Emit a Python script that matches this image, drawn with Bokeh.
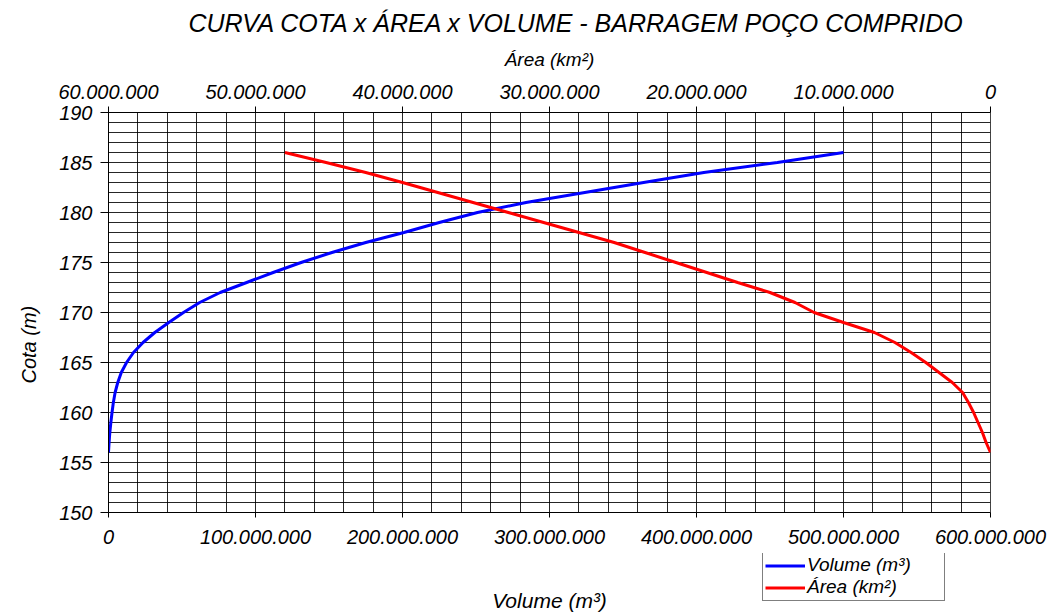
from bokeh.plotting import figure
from bokeh.layouts import column
from bokeh.models import Range1d, LinearAxis, FixedTicker, Label, Legend, LegendItem, Title
from bokeh.embed import file_html
from bokeh.resources import INLINE

# ---- data ----
cota = [156, 157, 158, 159, 160, 161, 162, 163, 164, 165, 166, 167, 168, 169, 170,
        171, 172, 173, 174, 175, 176, 177, 178, 179, 180, 181, 182, 183, 184, 185, 186]
volume = [0.0, 0.4e6, 0.9e6, 1.6e6, 2.4e6, 3.3e6, 4.5e6, 6.3e6, 8.7e6, 12.3e6, 17.0e6,
          23.5e6, 31.5e6, 41e6, 51e6, 62e6, 76e6, 94e6, 112e6, 131e6, 152e6, 175e6,
          201e6, 225e6, 251e6, 284e6, 324e6, 364e6, 405e6, 455e6, 500e6]
area = [0.0, 0.3e6, 0.55e6, 0.85e6, 1.15e6, 1.5e6, 1.9e6, 2.6e6, 3.5e6, 4.4e6, 5.4e6,
        6.5e6, 7.9e6, 10.0e6, 12.0e6, 13.3e6, 15.0e6, 17.2e6, 19.3e6, 21.4e6, 23.5e6,
        25.6e6, 28.0e6, 30.4e6, 32.8e6, 35.2e6, 37.6e6, 40.0e6, 42.5e6, 45.2e6, 48.0e6]

vol_ticks = [0, 100000000, 200000000, 300000000, 400000000, 500000000, 600000000]
vol_tick_labels = ["0", "100.000.000", "200.000.000", "300.000.000", "400.000.000",
                   "500.000.000", "600.000.000"]
area_ticks = [60000000, 50000000, 40000000, 30000000, 20000000, 10000000, 0]
area_tick_labels = ["60.000.000", "50.000.000", "40.000.000", "30.000.000",
                    "20.000.000", "10.000.000", "0"]
cota_ticks = [150, 155, 160, 165, 170, 175, 180, 185, 190]

title_text = "CURVA COTA x ÁREA x VOLUME - BARRAGEM POÇO COMPRIDO"
FONT = "Liberation Sans"
W = 1049

p = figure(width=W, height=553, output_backend="svg", toolbar_location=None,
           x_range=Range1d(0, 600000000), y_range=Range1d(150, 190),
           min_border_left=108, min_border_right=59, min_border_top=112,
           min_border_bottom=41)
p.background_fill_color = "white"
p.border_fill_color = "white"
p.outline_line_color = "#444444"

p.extra_x_ranges = {"area": Range1d(start=60000000, end=0)}

# title
p.title.text = title_text
p.title.align = "left"
p.title.vertical_align = "top"
p.title.offset = 80
p.title.standoff = 13
p.title.text_font = FONT
p.title.text_font_style = "italic"
p.title.text_font_size = "25px"
p.title.text_color = "black"

# grids
p.xgrid.ticker = FixedTicker(ticks=[i * 20000000 for i in range(31)])
p.ygrid.ticker = FixedTicker(ticks=list(range(150, 191)))
for g in (p.xgrid, p.ygrid):
    g.grid_line_color = "black"
    g.grid_line_alpha = 0.85
    g.grid_line_width = 1

def style_axis(ax):
    ax.axis_line_color = "black"
    ax.major_tick_line_color = "black"
    ax.minor_tick_line_color = None
    ax.major_tick_in = 0
    ax.major_label_text_font = FONT
    ax.major_label_text_font_style = "italic"
    ax.major_label_text_font_size = "20px"
    ax.major_label_text_color = "black"
    ax.axis_label_text_font = FONT
    ax.axis_label_text_font_style = "italic"
    ax.axis_label_text_font_size = "19px"
    ax.axis_label_text_color = "black"

# bottom axis (volume)
xa = p.xaxis[0]
xa.ticker = FixedTicker(ticks=vol_ticks)
xa.major_label_overrides = dict(zip(vol_ticks, vol_tick_labels))
style_axis(xa)
xa.major_tick_out = 5
xa.major_label_standoff = 12

# left axis (cota)
ya = p.yaxis[0]
ya.ticker = FixedTicker(ticks=cota_ticks)
style_axis(ya)
ya.major_tick_out = 8
ya.major_label_standoff = 8

# top axis (area)
ta = LinearAxis(x_range_name="area", ticker=FixedTicker(ticks=area_ticks),
                major_label_overrides=dict(zip(area_ticks, area_tick_labels)),
                axis_label="Área (km²)")
style_axis(ta)
ta.major_tick_out = 6
ta.major_label_standoff = 8
ta.axis_label_standoff = 12
p.add_layout(ta, "above")

# left title as axis caption
p.add_layout(Title(text="Cota (m)", align="left", vertical_align="top", offset=129,
                   standoff=30, text_font=FONT, text_font_style="italic",
                   text_font_size="20px", text_color="black"), "left")

# curves
p.line(volume, cota, line_color="#0000FF", line_width=3)
p.line(area, cota, line_color="#FF0000", line_width=3, x_range_name="area")

# ---- strip below: bottom axis title + legend ----
H2 = 612 - 553
FW = 882
q = figure(width=W, height=H2, output_backend="svg", toolbar_location=None,
           x_range=Range1d(0, FW), y_range=Range1d(0, H2),
           x_axis_location=None, y_axis_location=None, min_border=0)
q.outline_line_color = None
q.background_fill_color = "white"
q.border_fill_color = "white"
q.xgrid.visible = False
q.ygrid.visible = False

lv = q.line(x=[-20, -10], y=[-20, -20], line_color="#0000FF", line_width=3)
la = q.line(x=[-20, -10], y=[-20, -20], line_color="#FF0000", line_width=3)

legend = Legend(items=[LegendItem(label="Volume (m³)", renderers=[lv]),
                       LegendItem(label="Área (km²)", renderers=[la])],
                location=(654, 11), orientation="vertical")
legend.label_text_font = FONT
legend.label_text_font_style = "italic"
legend.label_text_font_size = "19px"
legend.label_text_color = "black"
legend.label_text_line_height = 1.0
legend.glyph_width = 40
legend.glyph_height = 17
legend.label_height = 17
legend.label_width = 135
legend.label_standoff = 2
legend.spacing = 0
legend.padding = 2
legend.margin = 0
legend.border_line_color = "black"
legend.border_line_width = 1
legend.background_fill_color = "white"
legend.background_fill_alpha = 1.0
q.add_layout(legend, "center")

q.add_layout(Label(x=441, y=12, text="Volume (m³)", text_align="center",
                   text_baseline="middle", text_font=FONT, text_font_style="italic",
                   text_font_size="21px", text_color="black"))

layout = column(p, q, spacing=0)
open("out.html", "w").write(file_html(layout, INLINE))
